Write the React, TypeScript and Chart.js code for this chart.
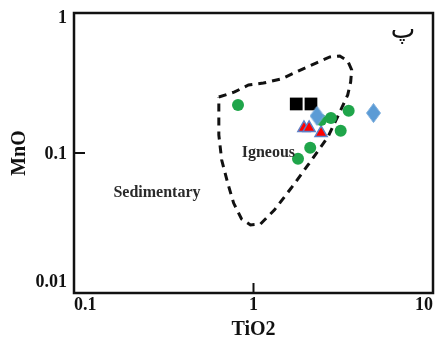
import { useEffect, useRef } from 'react';
import { Chart, registerables } from 'chart.js';

Chart.register(...registerables);

// Sample groups (TiO2 vs MnO, wt%)
const greenTiO2 = [0.82, 2.38, 2.7, 3.39, 3.06, 2.07, 1.77];
const greenMnO = [0.22, 0.172, 0.178, 0.2, 0.144, 0.109, 0.091];
const squareTiO2 = [1.73, 2.09];
const squareMnO = [0.224, 0.224];
const diamondTiO2 = [2.26, 4.66];
const diamondMnO = [0.184, 0.193];
const triangleTiO2 = [1.91, 2.04, 2.38];
const triangleMnO = [0.151, 0.151, 0.139];

// Igneous field boundary
const igneousTiO2 = [0.641, 0.785, 0.938, 1.136, 1.428, 1.773, 2.229, 2.664, 3.025, 3.349, 3.524, 3.478, 3.349, 3.025, 2.597, 2.013, 1.622, 1.306, 1.093, 0.962, 0.858, 0.775, 0.718, 0.665, 0.641, 0.641, 0.641];
const igneousMnO = [0.251, 0.273, 0.306, 0.316, 0.338, 0.385, 0.439, 0.485, 0.493, 0.454, 0.392, 0.322, 0.26, 0.196, 0.13, 0.0821, 0.0562, 0.0391, 0.0311, 0.0306, 0.0338, 0.0439, 0.0611, 0.0891, 0.1345, 0.203, 0.251];

// Axis ticks
const xTicks = [0.1, 1, 10];
const xTickLabels = ['0.1', '1', '10'];
const yTicks = [0.01, 0.1, 1];
const yTickLabels = ['0.01', '0.1', '1'];

// Field names and panel letter
const fieldLabels = ['Igneous', 'Sedimentary'];
const fieldLabelTiO2 = [1.21, 0.29];
const fieldLabelMnO = [0.1, 0.052];
const panelMark = 'پ';
const panelMarkTiO2 = 6.8;
const panelMarkMnO = 0.74;

const SERIF = '"Liberation Serif", "Times New Roman", serif';

const zip = (xs: number[], ys: number[]) => xs.map((x, i) => ({ x, y: ys[i] }));

function makeDiamond(): HTMLCanvasElement {
  const c = document.createElement('canvas');
  c.width = 15;
  c.height = 20;
  const g = c.getContext('2d')!;
  g.beginPath();
  g.moveTo(7.5, 0.5);
  g.lineTo(14.5, 10);
  g.lineTo(7.5, 19.5);
  g.lineTo(0.5, 10);
  g.closePath();
  g.fillStyle = '#5b9bd5';
  g.fill();
  g.strokeStyle = '#7fb0de';
  g.lineWidth = 1;
  g.stroke();
  return c;
}

const framePlugin = {
  id: 'frame',
  afterDraw(chart: any) {
    const { ctx, chartArea: a, scales } = chart;
    const xs = scales.x;
    const ys = scales.y;
    ctx.save();
    // frame
    ctx.strokeStyle = '#111';
    ctx.lineWidth = 2.5;
    ctx.strokeRect(a.left, a.top, a.right - a.left, a.bottom - a.top);
    // inward tick marks at the interior decades
    ctx.lineWidth = 2;
    xTicks.slice(1, -1).forEach((v) => {
      const px = xs.getPixelForValue(v);
      ctx.beginPath();
      ctx.moveTo(px, a.bottom);
      ctx.lineTo(px, a.bottom - 10);
      ctx.stroke();
    });
    yTicks.slice(1, -1).forEach((v) => {
      const py = ys.getPixelForValue(v);
      ctx.beginPath();
      ctx.moveTo(a.left, py);
      ctx.lineTo(a.left + 11, py);
      ctx.stroke();
    });
    // y tick labels
    ctx.fillStyle = '#111';
    ctx.font = `bold 18px ${SERIF}`;
    ctx.textAlign = 'right';
    ctx.textBaseline = 'alphabetic';
    yTicks.forEach((v, i) => {
      const py = ys.getPixelForValue(v);
      const off = i === 0 ? -6 : i === yTicks.length - 1 ? 10 : 6;
      ctx.fillText(yTickLabels[i], a.left - 7, py + off);
    });
    // field names
    ctx.fillStyle = '#2a2a2a';
    ctx.font = `bold 16px ${SERIF}`;
    ctx.textAlign = 'center';
    ctx.textBaseline = 'middle';
    fieldLabels.forEach((t, i) => {
      ctx.fillText(t, xs.getPixelForValue(fieldLabelTiO2[i]), ys.getPixelForValue(fieldLabelMnO[i]));
    });
    // panel letter
    ctx.fillStyle = '#111';
    ctx.font = '26px "DejaVu Sans", sans-serif';
    ctx.fillText(panelMark, xs.getPixelForValue(panelMarkTiO2), ys.getPixelForValue(panelMarkMnO));
    ctx.restore();
  },
};

export default function App() {
  const ref = useRef<HTMLCanvasElement>(null);

  useEffect(() => {
    const canvas = ref.current;
    if (!canvas) return;
    const diamond = makeDiamond();
    const chart = new Chart(canvas, {
      type: 'scatter',
      data: {
        datasets: [
          {
            label: 'diamond',
            data: zip(diamondTiO2, diamondMnO),
            pointStyle: diamond as any,
            pointRadius: 9,
          },
          {
            label: 'square',
            data: zip(squareTiO2, squareMnO),
            pointStyle: 'rect',
            pointRadius: 9,
            backgroundColor: '#000',
            borderColor: '#000',
            borderWidth: 0,
          },
          {
            label: 'circle',
            data: zip(greenTiO2, greenMnO),
            pointStyle: 'circle',
            pointRadius: 6,
            backgroundColor: '#1fa54a',
            borderColor: '#1fa54a',
            borderWidth: 0,
          },
          {
            label: 'triangle',
            data: zip(triangleTiO2, triangleMnO),
            pointStyle: 'triangle',
            pointRadius: 7,
            backgroundColor: '#ff0000',
            borderColor: '#5d7fc6',
            borderWidth: 1.5,
          },
          {
            label: 'Igneous',
            data: zip(igneousTiO2, igneousMnO),
            showLine: true,
            pointRadius: 0,
            borderColor: '#111',
            borderWidth: 3,
            borderDash: [8, 6],
            fill: false,
            tension: 0,
          },
        ],
      },
      options: {
        responsive: false,
        animation: false,
        events: [],
        layout: { padding: { left: 0, right: 7, top: 13, bottom: 0 } },
        plugins: {
          legend: { display: false },
          tooltip: { enabled: false },
        },
        scales: {
          x: {
            type: 'logarithmic',
            position: 'bottom',
            min: 0.1,
            max: 10,
            grid: { display: false, drawTicks: false },
            border: { display: false },
            afterBuildTicks: (s: any) => {
              s.ticks = xTicks.map((value) => ({ value }));
            },
            afterFit: (s: any) => {
              s.height = 47;
            },
            ticks: {
              align: 'inner',
              maxRotation: 0,
              autoSkip: false,
              padding: 2,
              color: '#111',
              font: { family: SERIF, size: 18, weight: 'bold' },
              callback: (v: any) => xTickLabels[xTicks.indexOf(Number(v))] ?? '',
            },
            title: {
              display: true,
              text: 'TiO2',
              color: '#111',
              font: { family: SERIF, size: 20, weight: 'bold', lineHeight: 1 },
              padding: { top: 0, bottom: 0 },
            },
          },
          y: {
            type: 'logarithmic',
            position: 'left',
            min: 0.01,
            max: 1,
            grid: { display: false, drawTicks: false },
            border: { display: false },
            afterBuildTicks: (s: any) => {
              s.ticks = yTicks.map((value) => ({ value }));
            },
            afterFit: (s: any) => {
              s.width = 74;
            },
            ticks: { display: false },
            title: {
              display: true,
              text: 'MnO',
              color: '#111',
              font: { family: SERIF, size: 20, weight: 'bold', lineHeight: 1 },
              padding: { top: 10, bottom: 0 },
            },
          },
        },
      },
      plugins: [framePlugin],
    } as any);
    return () => chart.destroy();
  }, []);

  return (
    <div style={{ position: 'absolute', left: 0, top: 0, width: 443, height: 340, background: '#fff' }}>
      <canvas ref={ref} width={443} height={340} style={{ display: 'block' }} />
    </div>
  );
}
